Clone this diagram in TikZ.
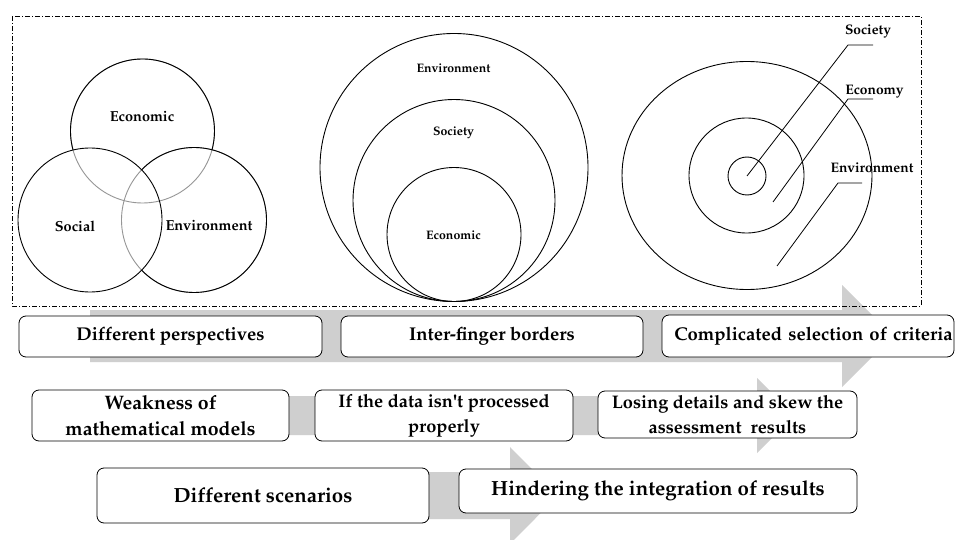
\documentclass[tikz,border=0pt]{standalone}
\usepackage[T1]{fontenc}
\usepackage{mathpazo}
\usepackage{textcomp}
\definecolor{arrowgray}{RGB}{207,207,207}
\definecolor{venngray}{RGB}{150,150,150}
\begin{document}
\begin{tikzpicture}[x=1pt,y=-1pt,
  ring/.style={line width=0.9pt},
  softring/.style={line width=0.9pt, draw=venngray},
  leader/.style={line width=0.8pt},
  flowarrow/.style={fill=arrowgray, draw=none},
  frame/.style={line width=0.7pt, dash pattern=on 5pt off 2pt on 1pt off 2pt},
  card/.style={draw, line width=0.8pt, rounded corners=7pt, fill=white,
    align=center, inner sep=0pt},
  rowone/.style={card, font=\fontsize{18.5}{23}\selectfont\bfseries},
  rowtwo/.style={card, font=\fontsize{19.5}{26}\selectfont\bfseries},
  rowtwosmall/.style={card, font=\fontsize{18.2}{25}\selectfont\bfseries},
  rowthree/.style={card, font=\fontsize{20.5}{26}\selectfont\bfseries},
  vennlabel/.style={font=\fontsize{14.5}{17}\selectfont\bfseries, inner sep=0pt},
  nestlabel/.style={font=\fontsize{12.3}{15}\selectfont\bfseries, inner sep=0pt},
  ringlabel/.style={font=\fontsize{13.8}{16}\selectfont\bfseries, inner sep=0pt}]
\useasboundingbox (0,0) rectangle (955,540);
\fill[white] (0,0) rectangle (955,540);

% wide grey arrows behind the three rows of cards
\fill[flowarrow] (90,310) -- (842,310) -- (842,285) -- (893,336)
  -- (842,387) -- (842,362) -- (90,362) -- cycle;
\fill[flowarrow] (40,396) -- (757,396) -- (757,378) -- (795,415.5)
  -- (757,453) -- (757,435) -- (40,435) -- cycle;
\fill[flowarrow] (150,472) -- (510,472) -- (510,447) -- (558,495.5)
  -- (510,544) -- (510,519) -- (150,519) -- cycle;

% dash-dotted frame around the three models
\draw[frame] (12,16) rectangle (921,306);

% Venn model
\coordinate (econ) at (142.5,131);
\coordinate (soc) at (90,220);
\coordinate (env) at (194,220);
\draw[softring] (econ) circle[radius=72];
\draw[softring] (env) circle[radius=72.5];
\draw[ring] (econ) ++(164.7:72) arc[start angle=164.7, end angle=375.5, radius=72];
\draw[ring] (env) ++(-136.2:72.5) arc[start angle=-136.2, end angle=136.2, radius=72.5];
\draw[ring] (soc) circle[radius=72];
\node[vennlabel] (econL) at (142,117) {Economic};
\node[vennlabel] (socL) at (75,226.5) {Social};
\node[vennlabel] (envL) at (209,226) {Environment};

% nested model
\draw[ring] (454,167.5) circle[radius=134];
\draw[ring] (454,200.5) circle[radius=101];
\draw[ring] (454,234.5) circle[radius=67];
\node[nestlabel] (nEnv) at (453.5,68) {Environment};
\node[nestlabel] (nSoc) at (453.5,133) {Society};
\node[nestlabel] (nEco) at (453.5,235) {Economic};

% concentric model
\draw[ring] (747,175.5) ellipse[x radius=125, y radius=114];
\draw[ring] (746.5,175.5) circle[radius=57.5];
\draw[ring] (747,176) circle[radius=19];
\node[ringlabel] (rSoc) at (868,31) {Society};
\node[ringlabel] (rEco) at (874.5,92) {Economy};
\node[ringlabel] (rEnv) at (872,168) {Environment};
\coordinate (pSoc) at (747,176);
\coordinate (kSoc) at (848,45);
\coordinate (eSoc) at (873,45);
\coordinate (pEco) at (773,202);
\coordinate (kEco) at (848,99);
\coordinate (eEco) at (873,99);
\coordinate (pEnv) at (777,266);
\coordinate (kEnv) at (838,183);
\coordinate (eEnv) at (862,183);
\draw[leader] (pSoc) -- (kSoc) -- (eSoc);
\draw[leader] (pEco) -- (kEco) -- (eEco);
\draw[leader] (pEnv) -- (kEnv) -- (eEnv);

% first row of cards
\node[rowone, minimum width=303pt, minimum height=41pt] (persp) at (170.5,336.5) {Different perspectives};
\node[rowone, minimum width=302pt, minimum height=41pt] (finger) at (492,336.5) {Inter-finger borders};
\node[rowone, minimum width=292pt, minimum height=42pt, text width=292pt] (criteria) at (808,336) {\hspace*{11pt}Complicated selection of criteria};

% second row of cards
\node[rowtwo, minimum width=257pt, minimum height=51pt] (weak) at (160.5,415.5) {Weakness of\\mathematical models};
\node[rowtwosmall, minimum width=258pt, minimum height=51pt] (data) at (444,415.5) {If the data isn\textquotesingle t processed\\properly};
\node[rowtwosmall, minimum width=259pt, minimum height=47pt] (skew) at (727.5,414.5) {Losing details and skew the\\assessment\ \ results};

% third row of cards
\node[rowthree, minimum width=332pt, minimum height=55pt] (scen) at (263,495.5) {Different scenarios};
\node[rowthree, minimum width=398pt, minimum height=44pt] (hinder) at (658,491) {Hindering the integration of results};
\end{tikzpicture}
\end{document}
